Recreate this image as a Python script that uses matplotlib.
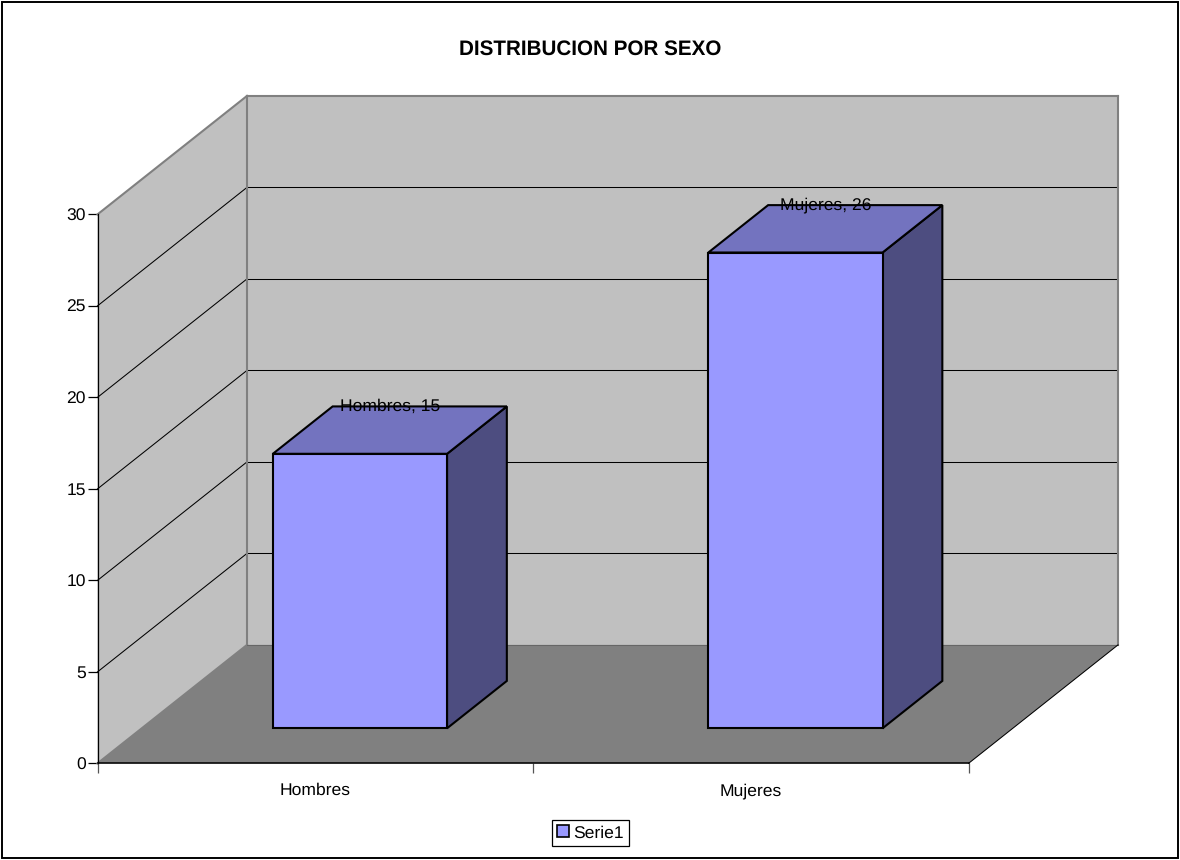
#!/usr/bin/env python3
import matplotlib
matplotlib.use('Agg')
import matplotlib.pyplot as plt
from matplotlib.patches import Patch, Polygon, Rectangle

plt.rcParams['font.family'] = ['Liberation Sans', 'DejaVu Sans']
plt.rcParams['text.hinting'] = 'no_hinting'

categorias = ['Hombres', 'Mujeres']
valores = [15, 26]
serie = 'Serie1'
titulo = 'DISTRIBUCION POR SEXO'
y_ticks = [0, 5, 10, 15, 20, 25, 30]

WALL = '#C0C0C0'
FLOOR = '#808080'
FRONT = '#9999FF'
TOP = '#7373BF'
SIDE = '#4D4D80'

# 3D look: depth is faked with a shear, given in data units
DEPTH_X = 149.5 / 435.5
DEPTH_Y = 118.5 / 18.3
BAR_W = 0.40
BAR_SHIFT = 0.001
BAR_D0 = 0.296
BAR_D1 = 0.696
YMAX = y_ticks[-1]
XMAX = len(categorias)
TXT = 12.6


def proj(x, y, d=0.0):
    return (x + d * DEPTH_X, y + d * DEPTH_Y)


def poly(ax, pts, color, edge='none', lw=0.0, z=1):
    ax.add_patch(Polygon(pts, closed=True, facecolor=color, edgecolor=edge,
                         linewidth=lw, zorder=z, clip_on=False,
                         joinstyle='miter'))


def line(ax, pts, color, lw, z=3):
    xs, ys = zip(*pts)
    ax.plot(xs, ys, color=color, lw=lw, zorder=z, clip_on=False)


fig = plt.figure(figsize=(11.8, 8.6), dpi=100, facecolor='white')
ax = fig.add_axes([97.5 / 1180, (860 - 763.4) / 860, 871 / 1180, 549 / 860])
ax.patch.set_visible(False)
ax.set_xlim(0, XMAX)
ax.set_ylim(0, YMAX)

# walls and floor
poly(ax, [proj(0, 0), proj(0, YMAX), proj(0, YMAX, 1), proj(0, 0, 1)], WALL, z=1)
poly(ax, [proj(0, 0, 1), proj(0, YMAX, 1), proj(XMAX, YMAX, 1), proj(XMAX, 0, 1)], WALL, z=1)
poly(ax, [proj(0, 0), proj(0, 0, 1), proj(XMAX, 0, 1), proj(XMAX, 0)], FLOOR, z=2)

# grid lines on both walls, drawn apart so the flat part stays crisp
for v in y_ticks[1:-1]:
    line(ax, [proj(0, v), proj(0, v, 1)], 'black', 0.75)
    line(ax, [proj(0, v, 1), proj(XMAX, v, 1)], 'black', 0.75)

# wall borders
line(ax, [proj(0, YMAX), proj(0, YMAX, 1)], FLOOR, 1.5)
line(ax, [proj(0, YMAX, 1), proj(XMAX, YMAX, 1)], FLOOR, 1.5)
line(ax, [proj(XMAX, YMAX, 1), proj(XMAX, 0, 1)], FLOOR, 1.5)
line(ax, [proj(0, 0), proj(0, 0, 1)], FLOOR, 1.5)
line(ax, [proj(0, 0, 1), proj(0, YMAX, 1)], FLOOR, 1.5)
line(ax, [proj(0, 0, 1), proj(XMAX, 0, 1)], '#666666', 0.75)
line(ax, [proj(XMAX, 0), proj(XMAX, 0, 1)], 'black', 0.75)

# bars
for i, (cat, val) in enumerate(zip(categorias, valores)):
    x0 = i + 0.5 + BAR_SHIFT - BAR_W / 2
    x1 = i + 0.5 + BAR_SHIFT + BAR_W / 2
    poly(ax, [proj(x1, 0, BAR_D0), proj(x1, val, BAR_D0), proj(x1, val, BAR_D1), proj(x1, 0, BAR_D1)],
         SIDE, 'black', 1.5, 4)
    poly(ax, [proj(x0, val, BAR_D0), proj(x1, val, BAR_D0), proj(x1, val, BAR_D1), proj(x0, val, BAR_D1)],
         TOP, 'black', 1.5, 4)
    poly(ax, [proj(x0, 0, BAR_D0), proj(x1, 0, BAR_D0), proj(x1, val, BAR_D0), proj(x0, val, BAR_D0)],
         FRONT, 'black', 1.5, 5)
    # label sits centred on the back edge of the bar top
    lx = proj(i + 0.5 + BAR_SHIFT, val, (BAR_D0 + BAR_D1) / 2)[0]
    ly = proj(i + 0.5 + BAR_SHIFT, val, BAR_D1)[1]
    ax.text(lx, ly, f'{cat}, {val}', ha='center', va='center', fontsize=TXT, color='black',
            zorder=6, clip_on=False)

# axes, ticks, labels
for s in ('top', 'right'):
    ax.spines[s].set_visible(False)
ax.spines['left'].set_linewidth(0.9)
ax.spines['left'].set_zorder(3)
ax.spines['bottom'].set_linewidth(1.1)
ax.spines['bottom'].set_zorder(3)
ax.set_yticks(y_ticks)
ax.set_yticklabels([str(v) for v in y_ticks], fontsize=TXT)
ax.tick_params(axis='y', length=7, width=0.9, pad=1.5)
ax.set_xticks(range(XMAX + 1))
ax.set_xticklabels([])
ax.set_xticks([i + 0.5 for i in range(XMAX)], minor=True)
ax.set_xticklabels(categorias, minor=True, fontsize=TXT)
ax.tick_params(axis='x', which='major', length=7, width=0.9, color='#555555')
ax.tick_params(axis='x', which='minor', length=0, pad=14)

fig.text(590.5 / 1180, 1 - 49 / 860, titulo, ha='center', va='center', fontsize=14.9,
         fontweight='bold')

leg = fig.legend(handles=[Patch(facecolor=FRONT, edgecolor='black', linewidth=1.2, label=serie)],
                 loc='center', bbox_to_anchor=(590.5 / 1180, 1 - 833 / 860), fontsize=TXT,
                 fancybox=False, framealpha=1, edgecolor='black', handlelength=0.65,
                 handleheight=0.65, handletextpad=0.25, borderpad=0.3, borderaxespad=0)
leg.get_frame().set_linewidth(0.9)

# chart frame
fig.add_artist(Rectangle((1.5 / 1180, 1 - 858 / 860), 1176.5 / 1180, 856.5 / 860,
                         transform=fig.transFigure, fill=False, edgecolor='black', linewidth=1.4))

fig.savefig('out.png', dpi=100)
